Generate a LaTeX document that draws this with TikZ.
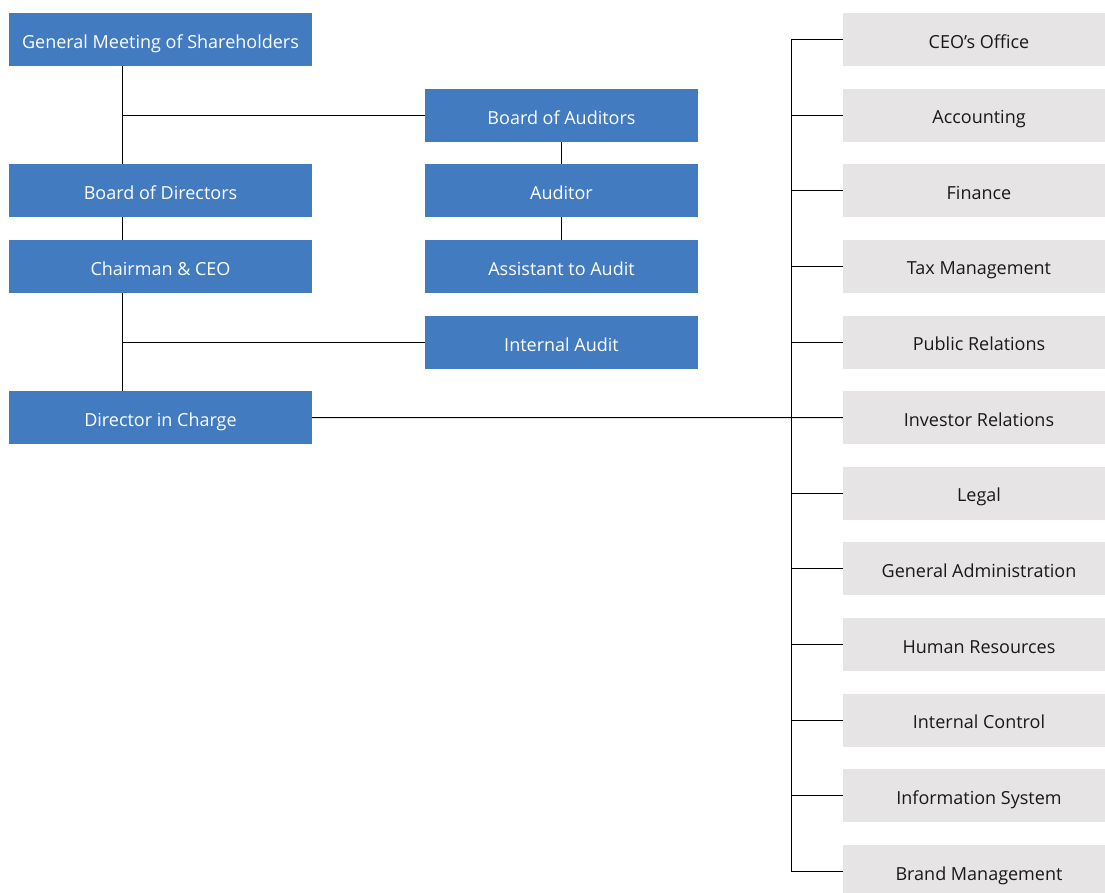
\documentclass[tikz,border=0pt]{standalone}
\usepackage{fontspec}
\setmainfont{Open Sans}
\usetikzlibrary{positioning}
\definecolor{boxblue}{HTML}{427BC0}
\definecolor{boxgrey}{HTML}{E6E4E4}
\tikzset{
  govbox/.style={fill=boxblue, text=white, minimum width=303pt, minimum height=53pt, inner sep=0pt,
    text height=17pt, text depth=0pt, font=\fontsize{18}{21}\selectfont},
  audbox/.style={govbox, minimum width=273pt},
  deptbox/.style={fill=boxgrey, text=black!90, minimum width=272pt, minimum height=53pt, inner sep=0pt,
    text height=17pt, text depth=0pt, font=\fontsize{18}{21}\selectfont},
  link/.style={draw=black, line width=1pt}
}
\begin{document}
\begin{tikzpicture}[x=1pt,y=-1pt]
  \useasboundingbox (0,0) rectangle (1105,892);
  % governance column
  \node[govbox] (gms) at (160.5,39.5) {General Meeting of Shareholders};
  \node[govbox] (bod) at (160.5,190.5) {Board of Directors};
  \node[govbox] (ceo) at (160.5,266.5) {Chairman \& CEO};
  \node[govbox] (dic) at (160.5,417.5) {Director in Charge};
  % audit column
  \node[audbox] (boa) at (561.5,115.5) {Board of Auditors};
  \node[audbox] (aud) at (561.5,190.5) {Auditor};
  \node[audbox] (asst) at (561.5,266.5) {Assistant to Audit};
  \node[audbox] (ia) at (561.5,342.5) {Internal Audit};
  % departments
  \foreach \name [count=\i] in {CEO’s Office, Accounting, Finance, Tax Management,
      Public Relations, Investor Relations, Legal, General Administration,
      Human Resources, Internal Control, Information System, Brand Management}
    \node[deptbox] (dept\i) at (979,{39.5+75.64*(\i-1)}) {\name};
  \coordinate (lsp) at (122,0);
  \coordinate (rsp) at (791,0);
  % connectors
  \draw[link] (gms.south -| lsp) -- (bod.north -| lsp);
  \draw[link] (bod.south -| lsp) -- (ceo.north -| lsp);
  \draw[link] (ceo.south -| lsp) -- (dic.north -| lsp);
  \draw[link] (boa.west) -- (boa.west -| lsp);
  \draw[link] (ia.west) -- (ia.west -| lsp);
  \draw[link] (boa) -- (aud);
  \draw[link] (aud) -- (asst);
  \draw[link] (dic.east) -- (dept6.west);
  \draw[link] (dept1.west -| rsp) -- (dept12.west -| rsp);
  \foreach \i in {1,...,12}
    \draw[link] (dept\i.west) -- (dept\i.west -| rsp);
\end{tikzpicture}
\end{document}
